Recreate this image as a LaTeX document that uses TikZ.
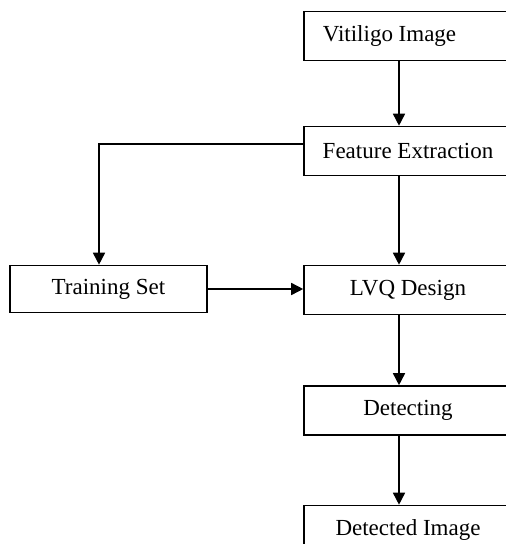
\documentclass[tikz,border=0pt]{standalone}
\usepackage{fontspec}
\setmainfont{Liberation Serif}
\usetikzlibrary{arrows.meta}

\begin{document}
\begin{tikzpicture}[x=1pt, y=-1pt,
	block/.style={rectangle, draw, line width=1.6pt, minimum width=208pt, minimum height=49pt, inner sep=0pt, font=\fontsize{23}{27}\selectfont},
	flow/.style={line width=1.6pt, -{Triangle[width=12pt, length=12pt]}}]

	\useasboundingbox (0, 0) rectangle (506, 544);
	\clip (0, 0) rectangle (506, 544);

	\node (vit) at (408, 36) [block] {\hspace*{-37pt}Vitiligo Image};
	\node (feat) at (408, 151) [block] {Feature Extraction};
	\node (lvq) at (408, 290) [block] {LVQ Design};
	\node (train) at (108.5, 289) [block, minimum width=197pt, minimum height=47pt] {Training Set};
	\node (det) at (408, 410.5) [block] {Detecting};
	\node (out) at (408, 530) [block] {Detected Image};

	\coordinate (ax) at (399, 0);
	\coordinate (bx) at (99, 144);

	\draw [flow] (vit.south -| ax) -- (feat.north -| ax);
	\draw [flow] (feat.south -| ax) -- (lvq.north -| ax);
	\draw [flow] (lvq.south -| ax) -- (det.north -| ax);
	\draw [flow] (det.south -| ax) -- (out.north -| ax);

	\draw [flow] (feat.west |- bx) -- (bx) -- (train.north -| bx);
	\draw [flow] (train.east) -- (lvq.west |- train.east);

\end{tikzpicture}
\end{document}
